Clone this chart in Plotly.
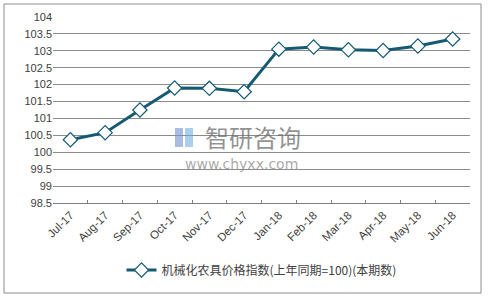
import plotly.graph_objects as go

months = ["Jul-17", "Aug-17", "Sep-17", "Oct-17", "Nov-17", "Dec-17",
          "Jan-18", "Feb-18", "Mar-18", "Apr-18", "May-18", "Jun-18"]
values = [100.37, 100.58, 101.25, 101.9, 101.89, 101.79,
          103.05, 103.11, 103.03, 103.01, 103.14, 103.35]
series_name = "机械化农具价格指数(上年同期=100)(本期数)"
y_ticks = [98.5, 99, 99.5, 100, 100.5, 101, 101.5, 102, 102.5, 103, 103.5, 104]

line_color = "#155a72"

# plot area in pixels: x 53..470, y 17..203
L, R, T, B = 53, 470, 17, 203
W, H = R - L, B - T

def px(x):
    return (x - L) / W

def py(y):
    return (B - y) / H

fig = go.Figure()
fig.add_trace(go.Scatter(
    x=months, y=values, mode="lines+markers", name=series_name,
    line=dict(color=line_color, width=3),
    marker=dict(symbol="diamond", size=11, color="white",
                line=dict(color=line_color, width=1.2)),
))

fig.update_layout(
    width=488, height=297,
    margin=dict(l=L, r=488 - R, t=T, b=297 - B, autoexpand=False),
    paper_bgcolor="white", plot_bgcolor="white",
    font=dict(family="Liberation Sans, Arial, Noto Sans CJK SC", color="#404040", size=11),
    showlegend=True,
    legend=dict(orientation="h", x=0.5, xanchor="center", y=py(270), yanchor="middle",
                font=dict(family="Noto Sans CJK SC, Liberation Sans", size=12, color="#404040"),
                bgcolor="rgba(0,0,0,0)"),
    xaxis=dict(
        type="category", range=[-0.5, 11.5], automargin=False,
        tickangle=-45, tickfont=dict(size=11.5, color="#404040"),
        showline=True, linecolor="#808080", linewidth=1,
        ticks="inside", ticklen=3, tickcolor="#808080", tickson="boundaries",
        showgrid=False,
    ),
    yaxis=dict(
        range=[98.5, 104], tickvals=y_ticks, automargin=False,
        ticktext=[("%g" % v) for v in y_ticks],
        showgrid=True, gridcolor="#8c8c8c", gridwidth=1,
        showline=False, zeroline=False, ticks="",
        tickfont=dict(size=11, color="#404040"),
    ),
    shapes=[
        dict(type="rect", xref="paper", yref="paper",
             x0=px(4), x1=px(481), y0=py(293), y1=py(4),
             line=dict(color="#8c8c8c", width=1), fillcolor="rgba(0,0,0,0)", layer="below"),
        dict(type="rect", xref="paper", yref="paper",
             x0=px(175), x1=px(183), y0=py(147), y1=py(128),
             line=dict(width=0), fillcolor="rgba(110,145,205,0.6)", layer="above"),
        dict(type="rect", xref="paper", yref="paper",
             x0=px(185), x1=px(193), y0=py(147), y1=py(128),
             line=dict(width=0), fillcolor="rgba(100,165,220,0.55)", layer="above"),
    ],
    annotations=[
        dict(text="智研咨询", xref="paper", yref="paper", x=px(253), y=py(136),
             xanchor="center", yanchor="middle",
             showarrow=False, font=dict(family="Noto Sans CJK SC", size=24, color="rgba(110,110,110,0.75)")),
        dict(text="www.chyxx.com", xref="paper", yref="paper", x=px(241), y=py(164),
             xanchor="center", yanchor="middle",
             showarrow=False, font=dict(family="DejaVu Sans", size=14, color="rgba(120,120,120,0.65)")),
    ],
)

fig.write_html("out.html")
